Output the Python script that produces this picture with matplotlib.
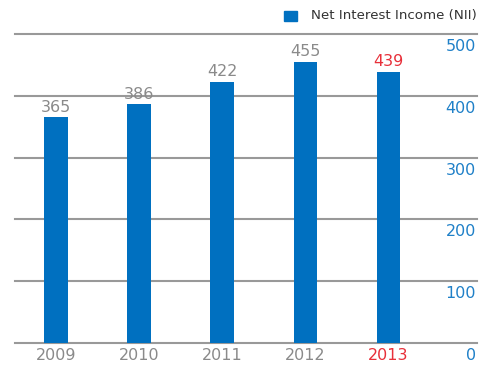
import matplotlib.pyplot as plt
from matplotlib.transforms import blended_transform_factory, offset_copy

years = ["2009", "2010", "2011", "2012", "2013"]
nii = [365, 386, 422, 455, 439]
y_ticks = [0, 100, 200, 300, 400, 500]
legend_label = "Net Interest Income (NII)"

BAR = "#0070c0"
GRID = "#999999"
GREY_TXT = "#8a8a8a"
RED = "#e8303a"
TICK_BLUE = "#1f80c8"

plt.rcParams["font.family"] = ["DejaVu Sans"]

fig = plt.figure(figsize=(4.81, 3.67), dpi=100)
ax = fig.add_axes([0.0312, 0.0654, 0.9605, 0.842])

x = list(range(len(years)))
ax.bar(x, nii, width=0.28, color=BAR, zorder=3)
ax.set_xlim(-0.494, 5.07)
ax.set_ylim(0, 500)

for t in y_ticks:
    ax.axhline(t, color=GRID, linewidth=1.5, zorder=1, clip_on=False)

for s in ax.spines.values():
    s.set_visible(False)
ax.set_xticks([])
ax.set_yticks([])

# right-hand value labels, sitting just under each grid line
trans = blended_transform_factory(ax.transAxes, ax.transData)
trans = offset_copy(trans, fig=fig, x=-1, y=-5, units="dots")
for t in y_ticks:
    ax.text(1.0, t, str(t), transform=trans, ha="right", va="top",
            fontsize=11.5, color=TICK_BLUE)

# year labels under the axis
xtrans = offset_copy(ax.get_xaxis_transform(), fig=fig, x=0, y=-5, units="dots")
for i, yr in enumerate(years):
    ax.text(i, 0, yr, transform=xtrans, ha="center", va="top", fontsize=11.5,
            color=RED if i == len(years) - 1 else GREY_TXT)

# value labels on top of bars
for i, v in enumerate(nii):
    ax.annotate(str(v), xy=(i, v), xytext=(0, 2), textcoords="offset points",
                ha="center", va="bottom", fontsize=11.5,
                color=RED if i == len(nii) - 1 else GREY_TXT)

# legend
fig.patches.append(plt.Rectangle((284 / 481, 1 - 21 / 367), 13 / 481, 10 / 367,
                                 transform=fig.transFigure, color=BAR))
fig.text(311 / 481, 1 - 15 / 367, legend_label, ha="left", va="center",
         fontsize=9.6, color="#333333")

fig.savefig("out.png", dpi=100)
